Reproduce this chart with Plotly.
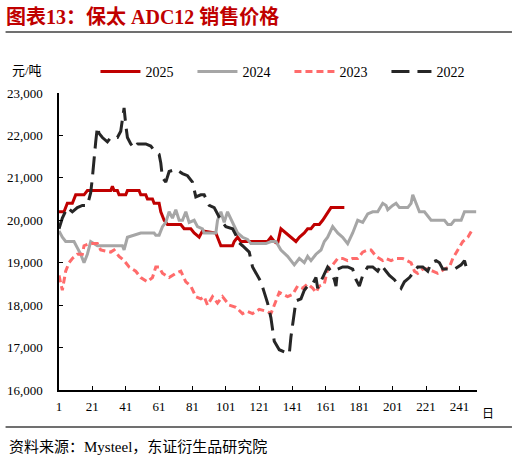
import plotly.graph_objects as go

# ---- data (day of year, price in yuan/ton) ----
days_2025 = [1, 4, 6, 9, 11, 16, 18, 32, 33, 34, 36, 37, 41, 42, 49, 50, 53, 54, 57, 58, 61, 62, 64, 66, 74,
             76, 80, 82, 85, 87, 95, 96, 98, 105, 106, 108, 110, 126, 128, 130, 132, 134, 137, 140, 143,
             145, 148, 150, 152, 154, 157, 159, 162, 164, 172]
price_2025 = [20200, 20200, 20400, 20400, 20600, 20600, 20700, 20700, 20800, 20700, 20700, 20600, 20600,
              20700, 20700, 20600, 20600, 20500, 20500, 20400, 20400, 20200, 20000, 19900, 19900, 19800,
              19800, 19700, 19600, 19750, 19700, 19600, 19400, 19400, 19500, 19600, 19500, 19500, 19600,
              19500, 19450, 19800, 19700, 19600, 19500, 19600, 19700, 19800, 19800, 19900, 19900, 20000,
              20200, 20300, 20300]

days_2024 = [1, 3, 5, 10, 12, 14, 16, 18, 20, 22, 24, 39, 40, 42, 46, 50, 58, 59, 61, 63, 65, 67, 69, 71,
             73, 75, 77, 79, 82, 84, 87, 88, 95, 96, 98, 100, 102, 105, 107, 108, 111, 114, 116, 125, 128,
             131, 134, 138, 142, 145, 148, 150, 152, 155, 158, 160, 162, 165, 168, 171, 174, 177, 180, 183,
             186, 189, 192, 195, 197, 198, 201, 203, 205, 210, 212, 213, 215, 217, 220, 222, 224, 232, 234,
             236, 238, 242, 244, 251]
price_2024 = [19750, 19600, 19500, 19500, 19350, 19200, 19000, 19200, 19500, 19450, 19400, 19400, 19300,
              19600, 19650, 19700, 19700, 19650, 19650, 19850, 19950, 20200, 20050, 20250, 20000, 20000,
              20200, 19950, 20000, 19850, 19800, 19700, 19700, 20000, 20200, 19950, 20200, 19950, 19800,
              19700, 19600, 19550, 19450, 19450, 19500, 19500, 19300, 19150, 18950, 19100, 19000, 19150,
              19050, 19200, 19300, 19500, 19600, 19850, 19700, 19600, 19450, 19700, 20000, 19950, 20150,
              20200, 20200, 20400, 20350, 20250, 20350, 20400, 20300, 20300, 20400, 20600, 20400, 20200,
              20200, 20100, 20000, 20000, 19900, 19900, 20000, 20000, 20200, 20200]

days_2023 = [1, 3, 5, 7, 9, 12, 15, 16, 19, 24, 26, 32, 34, 37, 40, 43, 47, 50, 54, 57, 59, 61, 63, 67, 71,
             74, 77, 80, 83, 86, 88, 90, 93, 96, 99, 103, 107, 111, 114, 117, 121, 126, 128, 130, 133, 138,
             141, 144, 147, 150, 153, 155, 157, 160, 162, 165, 168, 171, 174, 177, 180, 183, 186, 188, 191,
             195, 197, 200, 203, 207, 210, 212, 214, 216, 219, 222, 225, 228, 230, 232, 235, 237, 240, 243,
             246, 249]
price_2023 = [18700, 18350, 18800, 19000, 19100, 19200, 19200, 19400, 19450, 19450, 19300, 19250, 19300,
              19150, 19050, 18900, 18800, 18650, 18550, 18650, 18900, 18900, 18750, 18650, 18750, 18800,
              18550, 18450, 18200, 18150, 18200, 18000, 18200, 18050, 18200, 18000, 17950, 17800, 17850,
              17800, 17900, 17850, 17800, 18000, 18300, 18200, 18250, 18450, 18400, 18500, 18400, 18300,
              18450, 18500, 18850, 18950, 19100, 19100, 19050, 19100, 19100, 19250, 19300, 19300, 19150,
              19050, 19100, 19050, 19100, 19100, 19050, 19000, 18800, 18750, 18850, 18850, 18800, 18750,
              18800, 18850, 18900, 19100, 19300, 19500, 19600, 19800]

days_2022 = [1, 3, 6, 9, 12, 15, 18, 20, 21, 22, 23, 24, 25, 27, 30, 32, 36, 38, 39, 40, 41, 42, 44, 46, 48,
             53, 56, 59, 61, 62, 63, 65, 67, 71, 73, 75, 78, 81, 83, 86, 88, 91, 94, 96, 98, 101, 105, 107,
             108, 111, 115, 117, 120, 122, 124, 126, 128, 130, 133, 136, 139, 140, 142, 143, 146, 148, 150,
             153, 155, 156, 159, 162, 164, 166, 167, 168, 171, 174, 177, 179, 181, 183, 186, 189, 192, 194,
             197, 199, 202, 204, 206, 208, 211, 214, 216, 219, 222, 224, 227, 229, 231, 234, 238, 240, 242,
             244, 245]
price_2022 = [19800, 20050, 20300, 20200, 20300, 20350, 20350, 20650, 21000, 21500, 21850, 22200, 22050,
              21950, 21850, 21950, 21950, 22100, 22450, 22650, 22250, 21950, 21800, 21700, 21800, 21800,
              21750, 21600, 21550, 21350, 21000, 20900, 21150, 21200, 21150, 21100, 21050, 20900, 20550,
              20600, 20600, 20350, 20300, 20150, 20000, 19850, 19800, 19650, 19500, 19400, 19250, 18900,
              18700, 18550, 18300, 18050, 17700, 17150, 16950, 16900, 16850, 17250, 17900, 18100, 18150,
              18350, 18450, 18500, 18650, 18400, 18650, 18900, 18800, 18600, 18450, 18850, 18900, 18900,
              18850, 18600, 18450, 18700, 18900, 18900, 18800, 18950, 18800, 18700, 18600, 18500, 18400,
              18550, 18650, 18800, 18900, 18900, 18800, 19000, 19050, 19000, 18850, 18850, 18850, 18900,
              18950, 19050, 18900]

x_ticks = [1, 21, 41, 61, 81, 101, 121, 141, 161, 181, 201, 221, 241]
y_ticks = [16000, 17000, 18000, 19000, 20000, 21000, 22000, 23000]

FONT = "Liberation Serif, Times New Roman, Noto Sans CJK SC"
W, H = 517, 461
L, R, T, B = 58.5, 40, 93, 71


def px_x(p):
    # pixel column -> paper x
    return (p - L) / (W - L - R)


def px_y(p):
    # pixel row -> paper y
    return (H - B - p) / (H - T - B)


fig = go.Figure(
    data=[
        go.Scatter(name="2025", x=days_2025, y=price_2025, mode="lines",
                   line=dict(color="#C00000", width=3)),
        go.Scatter(name="2024", x=days_2024, y=price_2024, mode="lines",
                   line=dict(color="#A6A6A6", width=3)),
        go.Scatter(name="2023", x=days_2023, y=price_2023, mode="lines",
                   line=dict(color="#FF6B6B", width=3, dash="7px,4px")),
        go.Scatter(name="2022", x=days_2022, y=price_2022, mode="lines",
                   line=dict(color="#262626", width=3, dash="18px,8px")),
    ]
)

fig.update_layout(
    width=W,
    height=H,
    autosize=False,
    plot_bgcolor="white",
    paper_bgcolor="white",
    margin=dict(l=L, r=R, t=T, b=B, pad=0),
    font=dict(family=FONT, size=13, color="#000000"),
    title=dict(
        text="图表13：保太 ADC12 销售价格",
        font=dict(family=FONT, size=20, color="#C00000", weight="bold"),
        xref="container", yref="container",
        x=6 / W, y=1 - 17 / H, xanchor="left", yanchor="middle",
    ),
    showlegend=True,
    legend=dict(
        orientation="h",
        x=px_x(95), y=px_y(72), xanchor="left", yanchor="middle",
        entrywidth=42, entrywidthmode="pixels",
        itemwidth=40,
        font=dict(family=FONT, size=14),
        bgcolor="rgba(0,0,0,0)",
    ),
    shapes=[
        dict(type="line", xref="paper", yref="paper", x0=px_x(5), x1=px_x(512),
             y0=px_y(32), y1=px_y(32), line=dict(color="#404040", width=1.5)),
        dict(type="line", xref="paper", yref="paper", x0=px_x(5), x1=px_x(512),
             y0=px_y(427), y1=px_y(427), line=dict(color="#404040", width=1.5)),
    ],
    annotations=[
        dict(text="元/吨", xref="paper", yref="paper", x=px_x(9), y=px_y(70),
             xanchor="left", yanchor="middle", showarrow=False, font=dict(size=13)),
        dict(text="日", xref="paper", yref="paper", x=px_x(480), y=px_y(414),
             xanchor="left", yanchor="middle", showarrow=False, font=dict(size=12)),
        dict(text="资料来源：Mysteel，东证衍生品研究院", xref="paper", yref="paper",
             x=px_x(6), y=px_y(446), xanchor="left", yanchor="middle", showarrow=False,
             font=dict(size=15)),
    ],
)

fig.update_xaxes(
    range=[1, 251.5],
    tickvals=x_ticks,
    ticktext=[str(t) for t in x_ticks],
    automargin=False,
    showgrid=False,
    zeroline=False,
    showline=True,
    linecolor="black",
    linewidth=1.5,
    ticks="inside",
    ticklen=4,
    tickcolor="black",
    ticklabelstandoff=4,
    tickfont=dict(size=13),
)

fig.update_yaxes(
    range=[16000, 23000],
    tickvals=y_ticks,
    tickformat=",d",
    automargin=False,
    showgrid=False,
    zeroline=False,
    showline=True,
    linecolor="black",
    linewidth=1.5,
    ticks="inside",
    ticklen=4,
    tickcolor="black",
    ticklabelstandoff=12,
    tickfont=dict(size=13),
)

# the page body has a default 8px margin; drop it so the figure fills the window
fig.write_html(
    "out.html",
    config={"displayModeBar": False},
    post_script="document.body.style.margin='0px';document.body.style.overflow='hidden';",
)
